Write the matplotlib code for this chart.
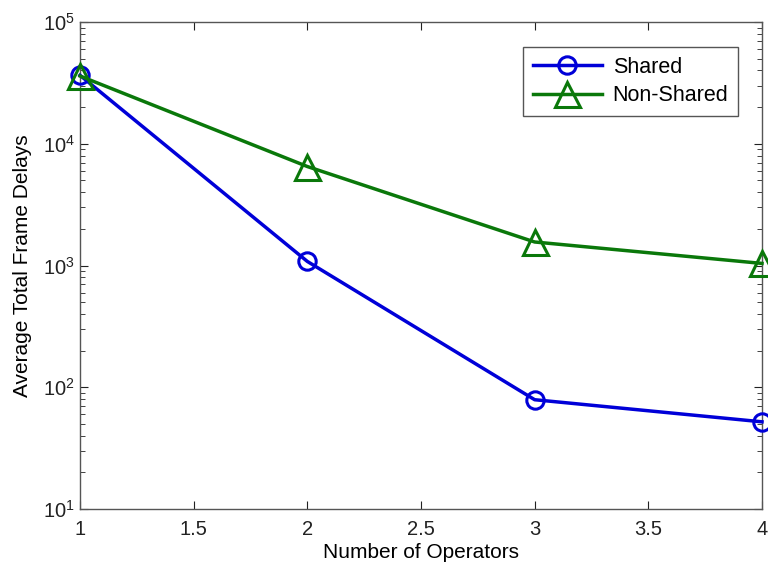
import numpy as np
import matplotlib
matplotlib.use("Agg")
import matplotlib.pyplot as plt

plt.rcParams['font.family'] = ['Liberation Sans', 'DejaVu Sans']
plt.rcParams['mathtext.fontset'] = 'custom'
plt.rcParams['mathtext.rm'] = 'Liberation Sans'
plt.rcParams['mathtext.it'] = 'Liberation Sans'
plt.rcParams['mathtext.default'] = 'regular'

operators = [1, 2, 3, 4]
shared = [36500, 1080, 79, 52]
nonShared = [36000, 6500, 1560, 1040]

xTicks = [1, 1.5, 2, 2.5, 3, 3.5, 4]
xTickLabels = ["1", "1.5", "2", "2.5", "3", "3.5", "4"]

fig = plt.figure(figsize=(7.68, 5.67), dpi=100)
ax = fig.add_axes([80/768, 1 - 509/567, (762-80)/768, (509-22)/567])

ax.plot(operators, shared, color='#0000d8', lw=2.5, marker='o', ms=12.5,
        mfc='none', mew=2.2, label='Shared', clip_on=False, zorder=3)
ax.plot(operators, nonShared, color='#0a780a', lw=2.5, marker='^', ms=18,
        mfc='none', mew=2.2, label='Non-Shared', clip_on=False, zorder=3)

ax.set_yscale('log')
ax.set_xlim(1, 4)
ax.set_ylim(10, 1e5)
ax.set_xticks(xTicks)
ax.set_xticklabels(xTickLabels)
ax.set_yticks([1e1, 1e2, 1e3, 1e4, 1e5])

ax.tick_params(which='both', direction='in', top=True, right=True, labelsize=14.5, colors='#222222')
ax.tick_params(which='major', length=6)
ax.tick_params(which='minor', length=3.5)
ax.tick_params(axis='x', pad=8)
for spine in ax.spines.values():
  spine.set_color('#555555')
  spine.set_linewidth(1.0)

ax.set_xlabel("Number of Operators", fontsize=15, labelpad=3)
ax.set_ylabel("Average Total Frame Delays", fontsize=15, labelpad=8)

leg = ax.legend(loc='upper right', bbox_to_anchor=(0.965, 0.949), borderaxespad=0,
                fontsize=15.5, fancybox=False, framealpha=1, edgecolor='#555555',
                handlelength=3.2, borderpad=0.45, labelspacing=0.35, handletextpad=0.5)
leg.get_frame().set_linewidth(1.0)

fig.savefig("out.png", dpi=100)
